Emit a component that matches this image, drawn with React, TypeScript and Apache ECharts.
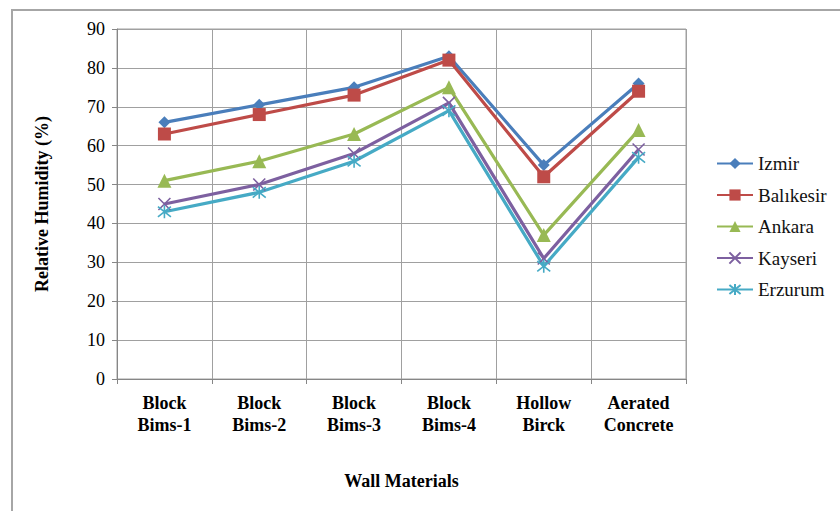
import React, { useEffect, useRef } from "react";
import * as echarts from "echarts";

const categories = ["Block\nBims-1", "Block\nBims-2", "Block\nBims-3", "Block\nBims-4", "Hollow\nBirck", "Aerated\nConcrete"];
const izmir = [66, 70.5, 75, 83, 55, 76];
const balikesir = [63, 68, 73, 82, 52, 74];
const ankara = [51, 56, 63, 75, 37, 64];
const kayseri = [45, 50, 58, 71, 31, 59];
const erzurum = [43, 48, 56, 69, 29, 57];
const yTicks = { min: 0, max: 90, interval: 10 };

const FONT = "Liberation Serif";

export default function App() {
  const ref = useRef<HTMLDivElement>(null);
  useEffect(() => {
    if (!ref.current) return;
    const chart = echarts.init(ref.current, null, { renderer: "svg" });
    const mk = (name: string, data: number[], color: string, symbol: string, size: number, stroke: boolean) => ({
      name,
      type: "line",
      data,
      symbol,
      symbolSize: size,
      lineStyle: { color, width: 3.2 },
      itemStyle: stroke
        ? { color, borderColor: color, borderWidth: 1.6 }
        : { color, borderWidth: 0 },
      emphasis: { disabled: true },
    });
    chart.setOption({
      animation: false,
      backgroundColor: "#ffffff",
      textStyle: { fontFamily: FONT },
      graphic: [
        {
          type: "rect",
          shape: { x: 12, y: 10, width: 860, height: 540 },
          style: { fill: "none", stroke: "#a6a6a6", lineWidth: 2 },
          silent: true,
        },
      ],
      grid: {
        left: 117,
        top: 29,
        width: 569,
        height: 350,
        containLabel: false,
        outerBoundsMode: "none",
        show: true,
        borderColor: "#a0a0a0",
        borderWidth: 1,
      },
      legend: {
        orient: "vertical",
        left: 711,
        top: 149,
        itemWidth: 36,
        itemHeight: 14,
        itemGap: 12.5,
        textStyle: { fontFamily: FONT, fontSize: 19, color: "#111" },
        data: ["Izmir", "Balıkesir", "Ankara", "Kayseri", "Erzurum"],
      },
      xAxis: {
        type: "category",
        data: categories,
        boundaryGap: true,
        name: "Wall Materials",
        nameLocation: "middle",
        nameGap: 93,
        nameTextStyle: { fontFamily: FONT, fontSize: 18, fontWeight: "bold", color: "#000" },
        axisLine: { lineStyle: { color: "#868686", width: 1 } },
        axisTick: { show: true, length: 5, lineStyle: { color: "#868686" } },
        axisLabel: {
          margin: 13,
          fontFamily: FONT,
          fontSize: 18,
          fontWeight: "bold",
          color: "#000",
          lineHeight: 22,
          interval: 0,
        },
        splitLine: { show: true, lineStyle: { color: "#a0a0a0", width: 1 } },
      },
      yAxis: {
        type: "value",
        min: yTicks.min,
        max: yTicks.max,
        interval: yTicks.interval,
        name: "Relative Humidity (%)",
        nameLocation: "middle",
        nameGap: 66,
        nameTextStyle: { fontFamily: FONT, fontSize: 18, fontWeight: "bold", color: "#000" },
        axisLine: { show: true, lineStyle: { color: "#868686", width: 1 } },
        axisTick: { show: true, length: 5, lineStyle: { color: "#868686" } },
        axisLabel: { margin: 12, fontFamily: FONT, fontSize: 18, color: "#000" },
        splitLine: { show: true, lineStyle: { color: "#a0a0a0", width: 1 } },
      },
      series: [
        mk("Izmir", izmir, "#4a7ebb", "diamond", 12, false),
        mk("Balıkesir", balikesir, "#be4b48", "rect", 13, false),
        mk("Ankara", ankara, "#98b954", "triangle", 14, false),
        mk("Kayseri", kayseri, "#7d60a0", "path://M0,0L10,10M10,0L0,10", 12, true),
        mk("Erzurum", erzurum, "#46aac5", "path://M1,1L9,9M9,1L1,9M5,0L5,10", 13, true),
      ],
    });
    return () => chart.dispose();
  }, []);
  return (
    <div
      ref={ref}
      style={{ position: "fixed", left: 0, top: 0, width: 840, height: 511, background: "#fff" }}
    />
  );
}
